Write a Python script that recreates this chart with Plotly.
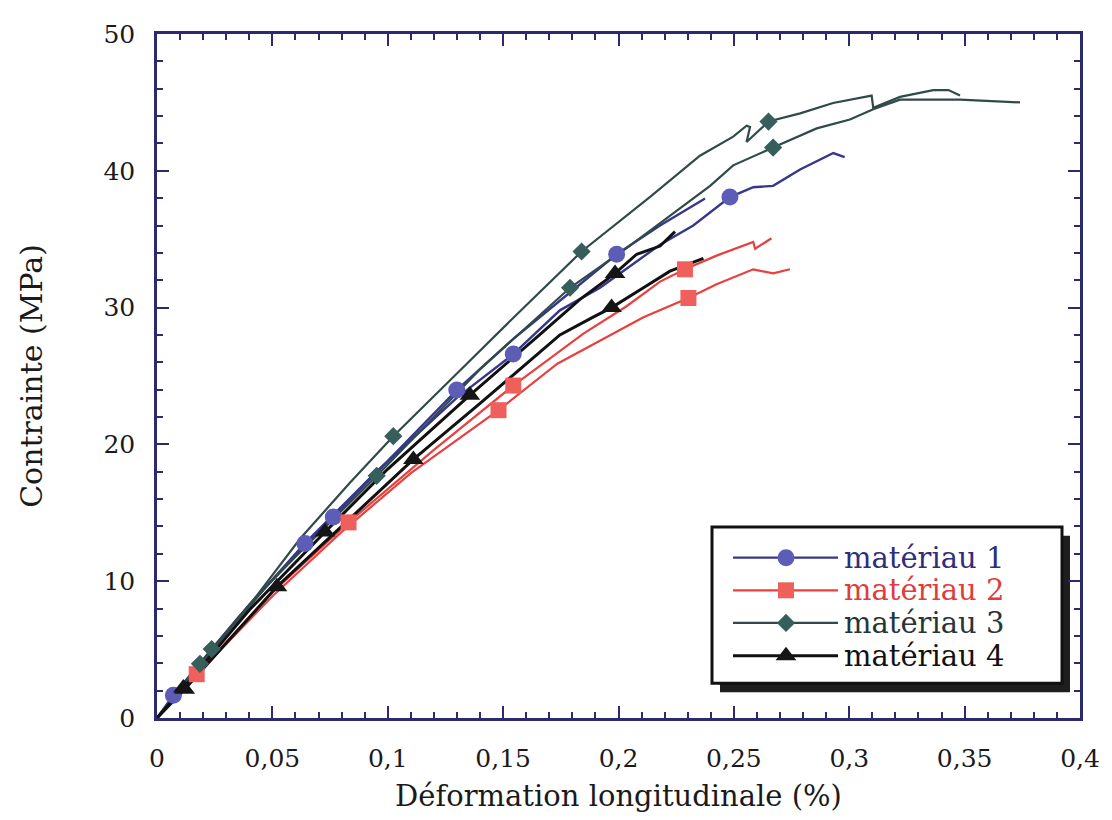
import plotly.graph_objects as go

# ---------------- data (strain %, stress MPa) ----------------
x_labels = ["0", "0,05", "0,1", "0,15", "0,2", "0,25", "0,3", "0,35", "0,4"]
x_ticks = [0, 0.05, 0.1, 0.15, 0.2, 0.25, 0.3, 0.35, 0.4]
y_ticks = [0, 10, 20, 30, 40, 50]

names = ["matériau 1", "matériau 2", "matériau 3", "matériau 4"]

# matériau 1
m1a_x = [0, 0.0071, 0.035, 0.0641, 0.095, 0.1299, 0.1544, 0.1746, 0.192, 0.2079, 0.218, 0.2324, 0.2483, 0.2584, 0.267, 0.2787, 0.2931, 0.298]
m1a_y = [0, 1.66, 7.3, 12.76, 18.0, 23.4, 26.6, 29.8, 31.45, 33.4, 34.6, 36.0, 38.08, 38.8, 38.9, 40.1, 41.3, 41.0]
m1a_marks = [1, 3, 6, 12]
m1b_x = [0, 0.04, 0.0764, 0.1, 0.1299, 0.155, 0.1833, 0.1992, 0.218, 0.2375]
m1b_y = [0, 8.3, 14.7, 18.8, 23.97, 27.8, 31.7, 33.9, 36.0, 37.97]
m1b_marks = [2, 4, 7]

# matériau 2
m2a_x = [0, 0.0172, 0.05, 0.083, 0.12, 0.1544, 0.1848, 0.2035, 0.218, 0.2288, 0.2425, 0.2584, 0.2592, 0.2663]
m2a_y = [0, 3.2, 9.2, 14.3, 19.6, 24.3, 28.1, 30.1, 31.9, 32.8, 33.8, 34.8, 34.3, 35.07]
m2a_marks = [1, 3, 5, 9]
m2b_x = [0, 0.015, 0.05, 0.08, 0.11, 0.148, 0.1735, 0.1977, 0.2108, 0.2303, 0.2425, 0.2584, 0.267, 0.2743]
m2b_y = [0, 2.8, 8.9, 13.6, 17.9, 22.5, 25.9, 28.1, 29.3, 30.7, 31.7, 32.8, 32.5, 32.8]
m2b_marks = [5, 9]

# matériau 3
m3a_x = [0, 0.0237, 0.0403, 0.062, 0.0836, 0.1024, 0.1313, 0.1559, 0.184, 0.2137, 0.2353, 0.2497, 0.2555, 0.257, 0.2555, 0.265, 0.2787, 0.293, 0.3097, 0.3104, 0.322, 0.3364, 0.343, 0.348]
m3a_y = [0, 5.04, 8.3, 13.1, 17.2, 20.6, 25.4, 29.5, 34.1, 38.1, 41.1, 42.5, 43.3, 43.2, 42.1, 43.6, 44.2, 44.96, 45.5, 44.6, 45.4, 45.9, 45.9, 45.5]
m3a_marks = [1, 5, 8, 15]
m3b_x = [0, 0.0186, 0.05, 0.0952, 0.12, 0.14, 0.179, 0.2035, 0.2397, 0.2497, 0.267, 0.2859, 0.3003, 0.3104, 0.322, 0.348, 0.374]
m3b_y = [0, 3.96, 10.1, 17.7, 22.0, 25.5, 31.45, 34.35, 38.9, 40.4, 41.7, 43.1, 43.75, 44.5, 45.2, 45.2, 45.0]
m3b_marks = [1, 3, 6, 10]

# matériau 4
m4a_x = [0, 0.0114, 0.04, 0.0728, 0.1, 0.1356, 0.165, 0.1833, 0.1985, 0.2079, 0.218, 0.2245]
m4a_y = [0, 2.2, 7.9, 13.6, 18.2, 23.6, 27.9, 30.6, 32.5, 33.9, 34.5, 35.55]
m4a_marks = [1, 3, 5, 8]
m4b_x = [0, 0.012, 0.052, 0.08, 0.1111, 0.14, 0.1746, 0.189, 0.197, 0.2108, 0.2223, 0.2368]
m4b_y = [0, 2.1, 9.6, 14.0, 18.9, 23.0, 28.0, 29.3, 30.0, 31.45, 32.66, 33.6]
m4b_marks = [1, 2, 4, 8]

# ---------------- styles ----------------
AX = "#2b2a6c"
FONT = "DejaVu Serif"
line_col = ["#36368f", "#e8403e", "#2f4a48", "#111111"]
mark_col = ["#5d5db8", "#ef5f5c", "#365e5b", "#151515"]
text_col = ["#2e2e7a", "#e03c3c", "#263636", "#111111"]
symbols = ["circle", "square", "diamond", "triangle-up"]
msize = [17, 16, 14, 18]
lwidth = [2.4, 2.2, 2.2, 3.0]

curves = [
    (0, m1a_x, m1a_y, m1a_marks), (0, m1b_x, m1b_y, m1b_marks),
    (1, m2a_x, m2a_y, m2a_marks), (1, m2b_x, m2b_y, m2b_marks),
    (2, m3a_x, m3a_y, m3a_marks), (2, m3b_x, m3b_y, m3b_marks),
    (3, m4a_x, m4a_y, m4a_marks), (3, m4b_x, m4b_y, m4b_marks),
]

fig = go.Figure()
for k, xs, ys, marks in curves:
    fig.add_trace(go.Scatter(x=xs, y=ys, mode="lines", name=names[k], showlegend=False,
                             line=dict(color=line_col[k], width=lwidth[k])))
for k, xs, ys, marks in curves:
    fig.add_trace(go.Scatter(x=[xs[i] for i in marks], y=[ys[i] for i in marks], mode="markers",
                             showlegend=False, name=names[k],
                             marker=dict(symbol=symbols[k], size=msize[k], color=mark_col[k],
                                         line=dict(width=0))))

# ---------------- custom legend drawn on a pixel-space overlay axis ----------------
# target page positions of the plot frame (page has an 8px body margin)
OFF = 8
L, R, T, B = 157, 1080, 27, 718
W, H = 1104, 812
box = dict(x0=712, x1=1062, y0=525, y1=683)
rows_y = [556, 589, 622, 655]
for k in range(4):
    fig.add_trace(go.Scatter(x=[733, 838], y=[rows_y[k], rows_y[k]], xaxis="x2", yaxis="y2",
                             mode="lines", showlegend=False, hoverinfo="skip",
                             line=dict(color=line_col[k], width=lwidth[k])))
    fig.add_trace(go.Scatter(x=[786], y=[rows_y[k]], xaxis="x2", yaxis="y2", mode="markers",
                             showlegend=False, hoverinfo="skip",
                             marker=dict(symbol=symbols[k], size=msize[k], color=mark_col[k])))
    fig.add_annotation(x=842, y=rows_y[k], xref="x2", yref="y2", text=names[k], showarrow=False,
                       xanchor="left", yanchor="middle",
                       font=dict(family=FONT, size=29, color=text_col[k]))

fig.add_shape(type="rect", xref="x2", yref="y2", x0=box["x0"] + 8, x1=box["x1"] + 8,
              y0=box["y0"] + 9, y1=box["y1"] + 9, fillcolor="#1e1e1e", line=dict(width=0), layer="below")
fig.add_shape(type="rect", xref="x2", yref="y2", **box, fillcolor="white",
              line=dict(color="#111111", width=3), layer="below")

fig.update_layout(
    width=W, height=H,
    margin=dict(l=L - OFF, r=W - (R - OFF), t=T - OFF, b=H - (B - OFF)),
    paper_bgcolor="white", plot_bgcolor="white",
    showlegend=False,
    font=dict(family=FONT, color="#1a1a1a"),
    xaxis=dict(range=[0, 0.4], tickvals=x_ticks, ticktext=x_labels, ticks="inside", ticklen=12,
               tickwidth=2, tickcolor=AX, showline=True, linecolor=AX, linewidth=2.5, mirror="ticks",
               showgrid=False, zeroline=False, ticklabelstandoff=16,
               minor=dict(dtick=0.01, ticks="inside", ticklen=6, tickwidth=2, tickcolor=AX),
               tickfont=dict(family=FONT, size=25, color="#1a1a1a"),
               title=dict(text="Déformation longitudinale (%)", standoff=14,
                          font=dict(family=FONT, size=29, color="#1a1a1a"))),
    yaxis=dict(range=[0, 50], tickvals=y_ticks, ticks="inside", ticklen=12, tickwidth=2,
               tickcolor=AX, showline=True, linecolor=AX, linewidth=2.5, mirror="ticks",
               showgrid=False, zeroline=False, ticklabelstandoff=14,
               minor=dict(dtick=2, ticks="inside", ticklen=6, tickwidth=2, tickcolor=AX),
               tickfont=dict(family=FONT, size=25, color="#1a1a1a"),
               title=dict(text="Contrainte (MPa)", standoff=52,
                          font=dict(family=FONT, size=30, color="#1a1a1a"))),
    xaxis2=dict(overlaying="x", range=[L, R], visible=False, domain=[0, 1]),
    yaxis2=dict(overlaying="y", range=[B, T], visible=False),
)

fig.write_html("out.html")
